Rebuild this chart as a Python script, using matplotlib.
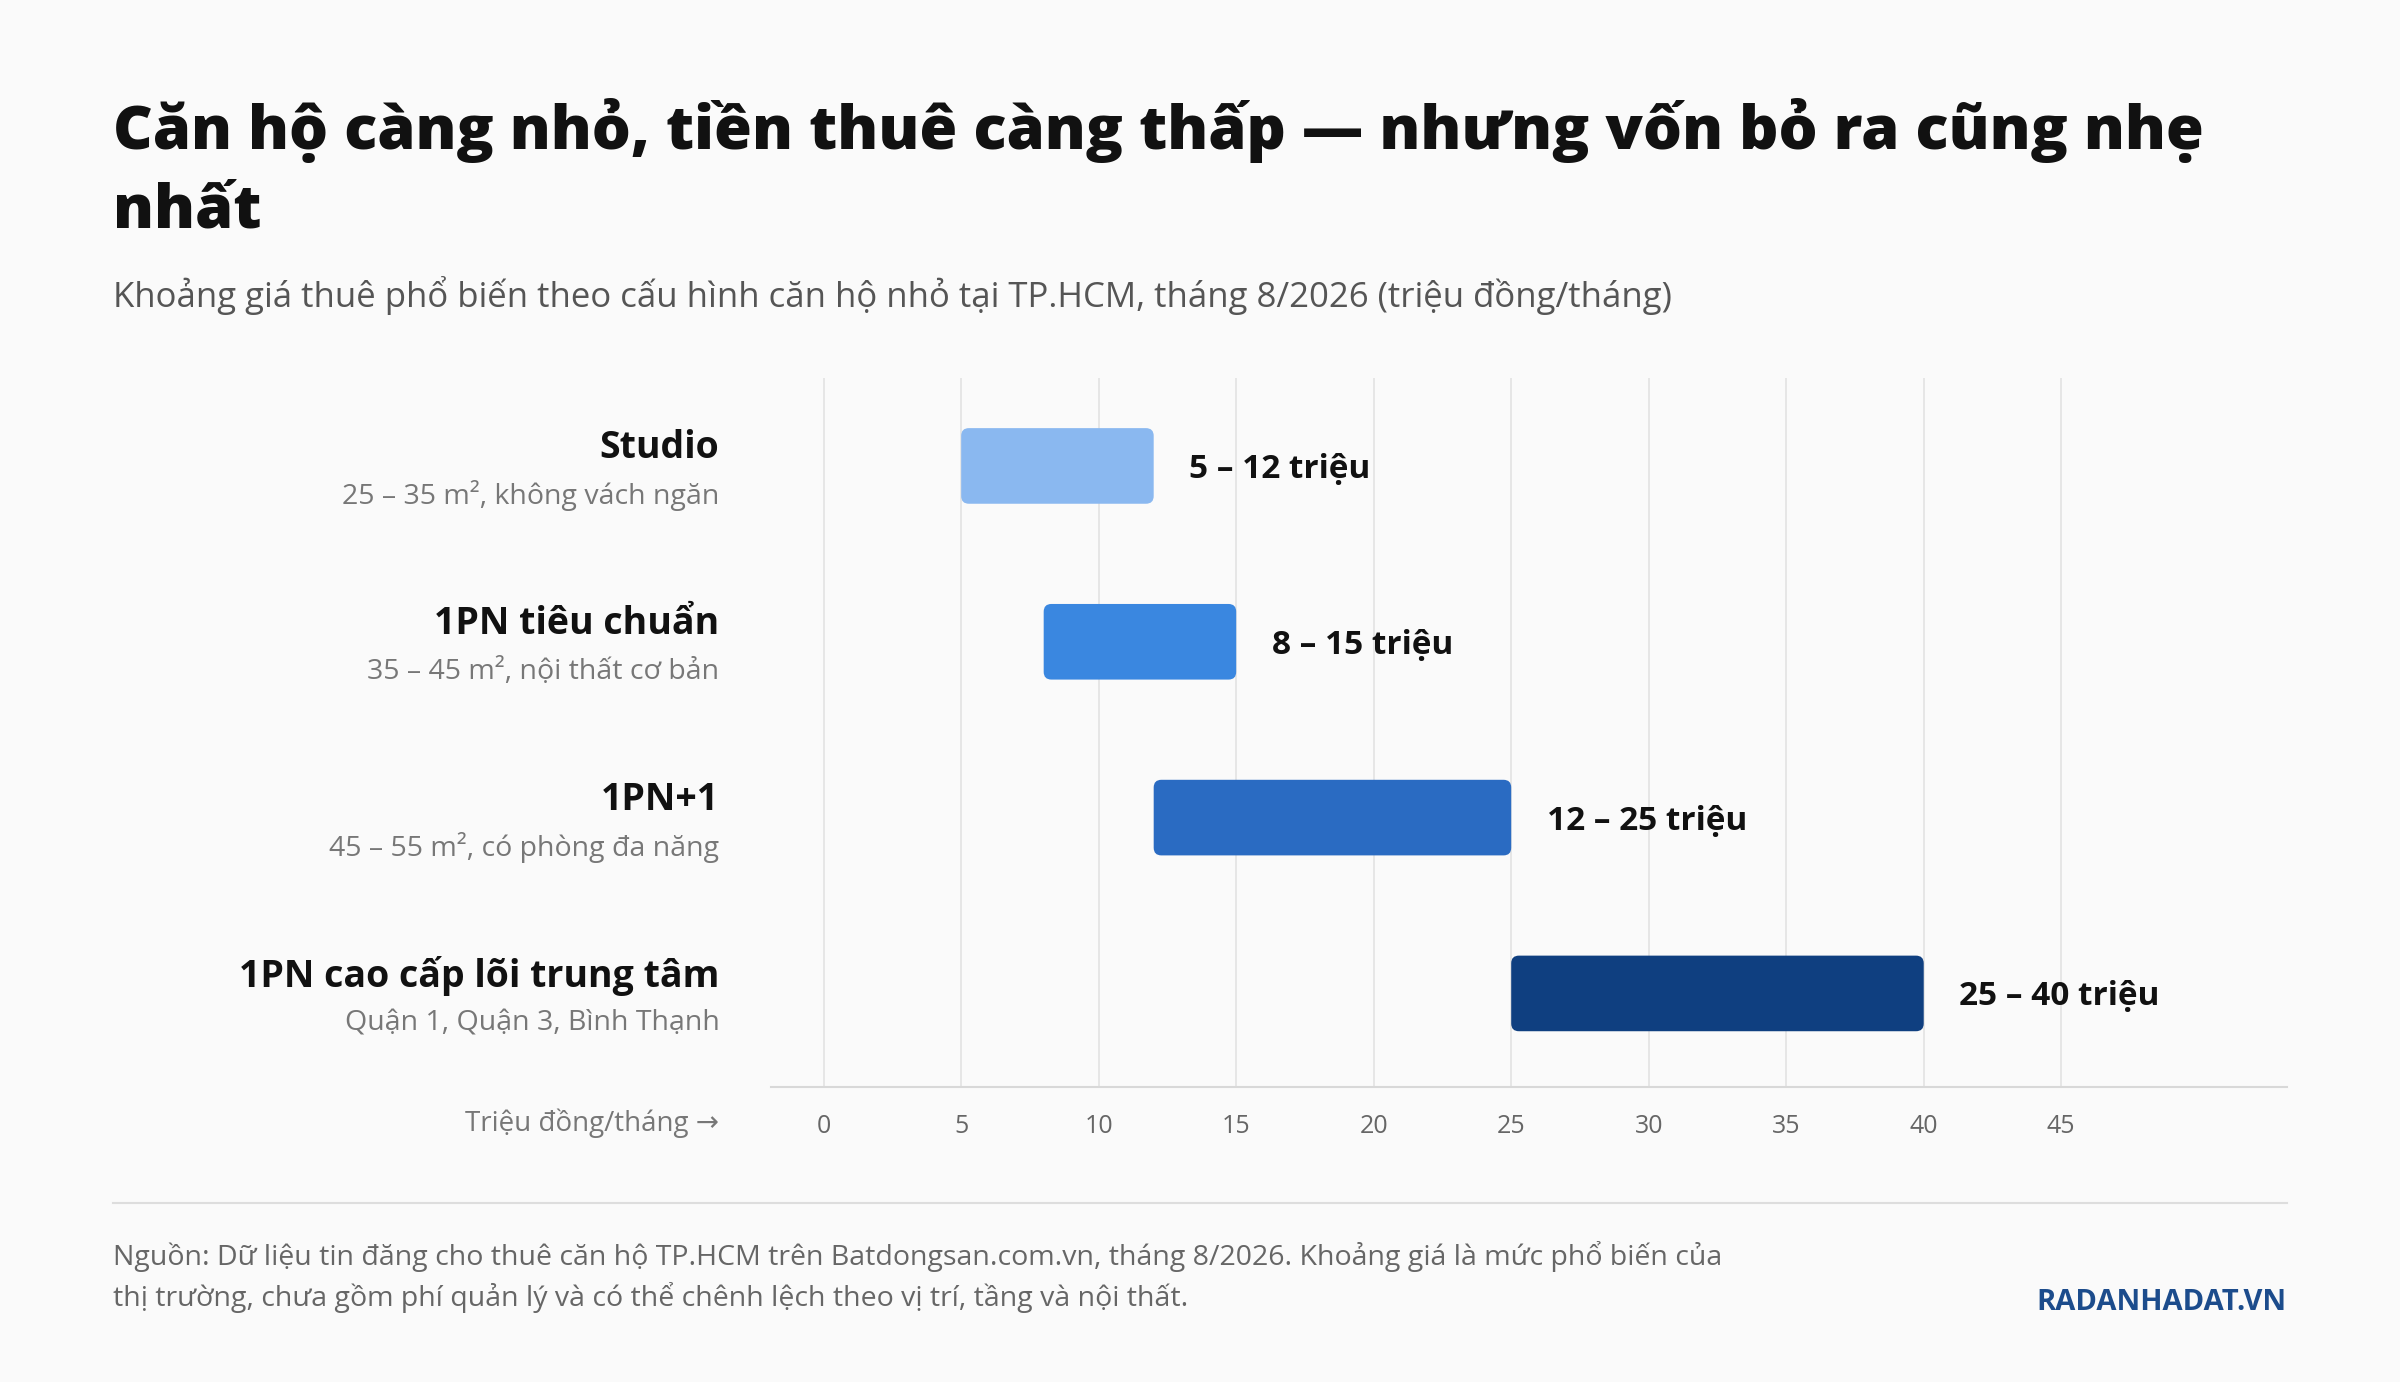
import matplotlib
matplotlib.use("Agg")
import matplotlib.pyplot as plt
from matplotlib.patches import FancyBboxPatch

categories = ["Studio", "1PN tiêu chuẩn", "1PN+1", "1PN cao cấp lõi trung tâm"]
subtitles = ["25 – 35 m², không vách ngăn", "35 – 45 m², nội thất cơ bản",
             "45 – 55 m², có phòng đa năng", "Quận 1, Quận 3, Bình Thạnh"]
low = [5, 8, 12, 25]
high = [12, 15, 25, 40]
colors = ["#8ab8f0", "#3a87e0", "#2a6bc2", "#0f3f80"]
ticks = [0, 5, 10, 15, 20, 25, 30, 35, 40, 45]

FAM = ["Open Sans", "DejaVu Sans"]
plt.rcParams["font.family"] = FAM
W, H = 1568, 903
fig = plt.figure(figsize=(24, 13.82), dpi=100, facecolor="#fafafa")
def fx(x): return x / W
def fy(y): return 1 - y / H

ax = fig.add_axes([fx(504), fy(710), fx(1494) - fx(504), fy(247) - fy(710)])
ax.set_facecolor("#fafafa")
ax.set_xlim(-1.9, 53.2)
ax.set_ylim(3.53, -0.5)
for t in ticks:
    ax.axvline(t, color="#e4e4e4", lw=1.3, zorder=0)
xu = 55.1 / 990.0
yu = 4.03 / 463.0
for i in range(len(categories)):
    h = 0.43
    p = FancyBboxPatch((low[i], i - h / 2), high[i] - low[i], h,
                       boxstyle="round,pad=0,rounding_size=0.28",
                       mutation_aspect=yu / xu, facecolor=colors[i],
                       edgecolor="none", zorder=2)
    ax.add_patch(p)
    ax.text(high[i] + 1.3, i + 0.02, f"{low[i]} – {high[i]} triệu", va="center", ha="left",
            fontsize=24, fontweight="bold", color="#111111")
for s in ["top", "right", "left"]:
    ax.spines[s].set_visible(False)
ax.spines["bottom"].set_color("#d8d8d8")
ax.spines["bottom"].set_linewidth(1.5)
ax.set_yticks([])
ax.set_xticks(ticks)
ax.set_xticklabels([str(t) for t in ticks], fontsize=18, color="#666666")
ax.tick_params(axis="x", length=0, pad=20)

for i, y in enumerate([293, 408, 523, 638]):
    fig.text(fx(470), fy(y), categories[i], ha="right", va="center", fontsize=27,
             fontweight="bold", color="#111111")
    fig.text(fx(470), fy(y + 31), subtitles[i], ha="right", va="center", fontsize=20.5,
             color="#777777")
fig.text(fx(470), fy(734), "Triệu đồng/tháng →", ha="right", va="center", fontsize=20,
         color="#777777")

fig.text(fx(74), fy(85), "Căn hộ càng nhỏ, tiền thuê càng thấp — nhưng vốn bỏ ra cũng nhẹ",
         ha="left", va="center", fontsize=44.2, fontweight="heavy", color="#111111")
fig.text(fx(74), fy(138), "nhất", ha="left", va="center", fontsize=44.2,
         fontweight="heavy", color="#111111")
fig.text(fx(74), fy(193), "Khoảng giá thuê phổ biến theo cấu hình căn hộ nhỏ tại TP.HCM, tháng 8/2026 (triệu đồng/tháng)",
         ha="left", va="center", fontsize=25, color="#555555")

fig.add_artist(plt.Line2D([fx(74), fx(1494)], [fy(786), fy(786)], color="#dddddd", lw=1.5))
fig.text(fx(74), fy(821), "Nguồn: Dữ liệu tin đăng cho thuê căn hộ TP.HCM trên Batdongsan.com.vn, tháng 8/2026. Khoảng giá là mức phổ biến của",
         ha="left", va="center", fontsize=20.5, color="#666666")
fig.text(fx(74), fy(848), "thị trường, chưa gồm phí quản lý và có thể chênh lệch theo vị trí, tầng và nội thất.",
         ha="left", va="center", fontsize=20.5, color="#666666")
fig.text(fx(1494), fy(851), "RADANHADAT.VN", ha="right", va="center", fontsize=21,
         fontweight="bold", color="#1c4c8c")

fig.savefig("out.png", dpi=100, facecolor=fig.get_facecolor())
